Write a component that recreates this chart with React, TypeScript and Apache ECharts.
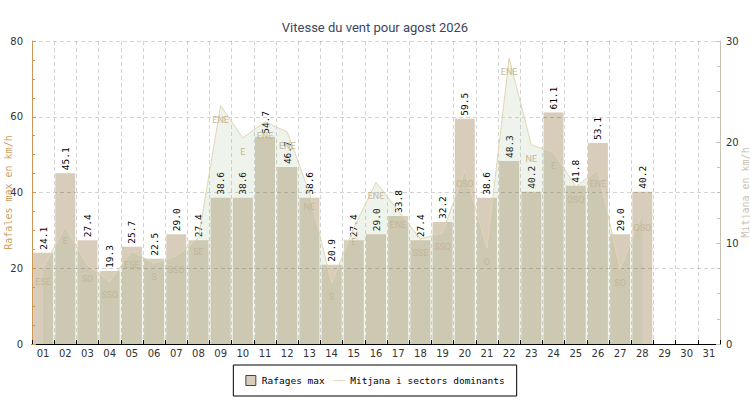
import React, { useEffect, useRef } from 'react';
import * as echarts from 'echarts';

const titleText = 'Vitesse du vent pour agost 2026';
const days = ['01', '02', '03', '04', '05', '06', '07', '08', '09', '10', '11', '12', '13', '14', '15', '16', '17', '18', '19', '20', '21', '22', '23', '24', '25', '26', '27', '28', '29', '30', '31'];
const gusts = [24.1, 45.1, 27.4, 19.3, 25.7, 22.5, 29.0, 27.4, 38.6, 38.6, 54.7, 46.7, 38.6, 20.9, 27.4, 29.0, 33.8, 27.4, 32.2, 59.5, 38.6, 48.3, 40.2, 61.1, 41.8, 53.1, 29.0, 40.2, null, null, null];
const meanWind = [7.5, 11.6, 7.8, 6.2, 9.2, 8.0, 8.7, 10.5, 23.6, 20.4, 22.0, 21.0, 15.0, 6.0, 11.5, 16.0, 13.2, 10.4, 11.0, 17.2, 9.5, 28.3, 19.7, 19.0, 15.6, 17.2, 7.4, 12.9, null, null, null];
const sectors = ['ESE', 'E', 'SO', 'SSO', 'ESE', 'S', 'SSO', 'SE', 'ENE', 'E', 'ENE', 'ENE', 'NE', 'S', 'E', 'ENE', 'ENE', 'SSE', 'SSO', 'OSO', 'O', 'ENE', 'NE', 'E', 'OSO', 'ENE', 'SO', 'OSO', '', '', ''];
const leftTicks = { min: 0, max: 80, interval: 20 };
const rightTicks = { min: 0, max: 30, interval: 10 };

const gridColor = 'rgba(0,0,0,0.17)';

export default function App() {
  const ref = useRef<HTMLDivElement>(null);
  useEffect(() => {
    if (!ref.current) return;
    const chart = echarts.init(ref.current, undefined, { renderer: 'svg' });
    chart.setOption({
      animation: false,
      backgroundColor: '#ffffff',
      title: {
        text: titleText,
        left: 'center',
        top: 16,
        textStyle: { fontFamily: 'Roboto', fontSize: 13, fontWeight: 'normal', color: '#3b4660' },
      },
      legend: {
        left: 'center',
        top: 365,
        backgroundColor: '#ffffff',
        borderColor: '#000000',
        borderWidth: 1,
        borderRadius: 0,
        padding: [10, 12],
        itemGap: 8,
        itemWidth: 12,
        itemHeight: 10,
        textStyle: { fontFamily: 'DejaVu Sans Mono', fontSize: 9.5, color: '#000' },
        data: [
          { name: 'Rafages max', icon: 'path://M0,0h10v10H0z', itemStyle: { borderColor: '#444', borderWidth: 1 } },
          {
            name: 'Mitjana i sectors dominants',
            itemStyle: { color: 'rgba(0,0,0,0)', borderWidth: 0, opacity: 0 },
            lineStyle: { color: '#e6dcc4', width: 1 },
          },
        ],
      },
      grid: { left: 32, right: 30, top: 41, bottom: 56, containLabel: false, outerBoundsMode: 'none' },
      xAxis: {
        type: 'category',
        data: days,
        boundaryGap: true,
        z: 3,
        axisLine: { lineStyle: { color: '#000', width: 1 } },
        axisTick: { show: true, inside: true, length: 4, interval: 0, lineStyle: { color: '#000' } },
        axisLabel: { interval: 0, color: '#333', fontSize: 10, margin: 4, fontFamily: 'DejaVu Sans' },
        splitLine: { show: true, interval: 0, lineStyle: { color: gridColor, type: [4, 3] } },
      },
      yAxis: [
        {
          type: 'value',
          position: 'left',
          ...leftTicks,
          z: 3,
          name: 'Rafales max en km/h',
          nameLocation: 'middle',
          nameRotate: 90,
          nameGap: 19,
          nameMoveOverlap: false,
          nameTextStyle: { color: '#cf9f62', fontFamily: 'DejaVu Sans Mono', fontSize: 10 },
          axisLine: { show: true, lineStyle: { color: '#cc9655' } },
          axisTick: { show: true, inside: true, length: 4, lineStyle: { color: '#cc9655' } },
          minorTick: { show: true, splitNumber: 4, length: 3, lineStyle: { color: '#cc9655' } },
          axisLabel: { color: '#333', fontSize: 10, margin: 9, fontFamily: 'DejaVu Sans' },
          splitLine: { show: true, lineStyle: { color: gridColor, type: [4, 3] } },
        },
        {
          type: 'value',
          position: 'right',
          ...rightTicks,
          z: 3,
          name: 'Mitjana en km/h',
          nameLocation: 'middle',
          nameRotate: 90,
          nameGap: 20,
          nameMoveOverlap: false,
          nameTextStyle: { color: '#c9c1b2', fontFamily: 'DejaVu Sans Mono', fontSize: 10 },
          axisLine: { show: true, lineStyle: { color: '#c9c1b2' } },
          axisTick: { show: true, inside: true, length: 4, lineStyle: { color: '#c9c1b2' } },
          minorTick: { show: true, splitNumber: 4, length: 3, lineStyle: { color: '#c9c1b2' } },
          axisLabel: { color: '#333', fontSize: 10, margin: 6, fontFamily: 'DejaVu Sans' },
          splitLine: { show: false },
        },
      ],
      series: [
        {
          name: 'Rafages max',
          type: 'bar',
          yAxisIndex: 0,
          data: gusts,
          barWidth: '90%',
          itemStyle: { color: '#d8ccba' },
          label: {
            show: true,
            position: 'top',
            rotate: 90,
            align: 'left',
            verticalAlign: 'middle',
            distance: 3,
            fontFamily: 'DejaVu Sans Mono',
            fontSize: 9.5,
            color: '#000',
            formatter: (p: any) => (p.value == null ? '' : Number(p.value).toFixed(1)),
          },
        },
        {
          name: 'Mitjana i sectors dominants',
          type: 'line',
          yAxisIndex: 1,
          data: meanWind,
          symbol: 'circle',
          symbolSize: 1,
          showSymbol: true,
          connectNulls: false,
          itemStyle: { color: 'rgba(0,0,0,0)' },
          lineStyle: { color: '#e2d5b3', width: 1 },
          areaStyle: { color: 'rgba(150,182,138,0.16)', opacity: 1 },
          label: {
            show: true,
            position: 'bottom',
            distance: 9,
            color: '#c4b698',
            fontFamily: 'Roboto',
            fontSize: 9,
            formatter: (p: any) => sectors[p.dataIndex] || '',
          },
        },
      ],
    });
    return () => chart.dispose();
  }, []);
  return <div ref={ref} style={{ position: 'fixed', left: 0, top: 0, width: 750, height: 400 }} />;
}
